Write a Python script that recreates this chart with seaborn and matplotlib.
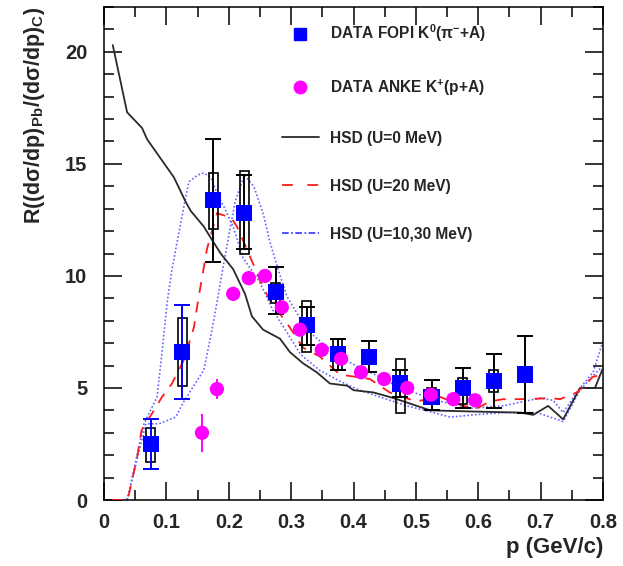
import numpy as np
import pandas as pd
import seaborn as sns
import matplotlib
matplotlib.use("Agg")
import matplotlib.pyplot as plt
from matplotlib.lines import Line2D
from matplotlib.patches import Rectangle
from matplotlib.ticker import MultipleLocator

# ---------------- data ----------------
# FOPI K0 (pi- + A): ratio Pb/C vs momentum
fopi_p = [0.075, 0.125, 0.175, 0.225, 0.275, 0.325, 0.375, 0.425, 0.475, 0.525, 0.575, 0.625, 0.675]
fopi_r = [2.5, 6.6, 13.4, 12.8, 9.3, 7.8, 6.5, 6.4, 5.2, 4.6, 5.0, 5.3, 5.6]
fopi_stat_lo = [1.4, 4.5, 10.6, 11.2, 8.3, 6.9, 5.8, 5.7, 4.6, 4.0, 4.1, 4.1, 3.9]
fopi_stat_hi = [3.6, 8.7, 16.1, 14.5, 10.4, 8.6, 7.2, 7.1, 5.8, 5.35, 5.9, 6.5, 7.3]
fopi_sys_lo = [1.7, 5.1, 12.1, 11.0, 8.8, 6.6, 5.8, np.nan, 3.9, 4.3, 4.3, 4.8, np.nan]
fopi_sys_hi = [3.2, 8.1, 14.6, 14.7, 9.7, 8.9, 7.2, np.nan, 6.3, 5.0, 5.45, 5.8, np.nan]
fopi_bar_color = ["#0000ff", "#0000ff"] + ["#000000"] * 11

# ANKE K+ (p + A)
anke_p = [0.157, 0.181, 0.207, 0.232, 0.258, 0.285, 0.314, 0.349, 0.380, 0.412,
          0.449, 0.486, 0.524, 0.560, 0.595]
anke_r = [3.0, 4.95, 9.2, 9.9, 10.0, 8.6, 7.6, 6.7, 6.3, 5.7, 5.4, 5.0, 4.7, 4.5, 4.45]
anke_err = [0.85, 0.45, 0.3, 0.3, 0.25, 0.25, 0.25, 0.2, 0.2, 0.2, 0.2, 0.2, 0.2, 0.2, 0.2]

# HSD transport calculations
hsd0_p = [0.014, 0.037, 0.061, 0.069, 0.112, 0.131, 0.139, 0.160, 0.171, 0.187, 0.207,
          0.226, 0.237, 0.255, 0.282, 0.298, 0.319, 0.341, 0.362, 0.390, 0.400, 0.432,
          0.464, 0.523, 0.590, 0.667, 0.688, 0.712, 0.736, 0.763, 0.787, 0.800]
hsd0_r = [20.3, 17.3, 16.6, 16.1, 14.4, 13.3, 12.9, 12.2, 11.7, 11.0, 10.3,
          9.2, 8.2, 7.6, 7.2, 6.6, 6.1, 5.7, 5.2, 5.1, 4.9, 4.8,
          4.55, 4.0, 3.95, 3.9, 3.8, 4.2, 3.6, 5.0, 5.0, 5.9]

hsd20_p = [0.0125, 0.038, 0.053, 0.060, 0.080, 0.093, 0.109, 0.128, 0.144, 0.152, 0.165,
           0.181, 0.204, 0.213, 0.229, 0.250, 0.266, 0.293, 0.319, 0.346, 0.378, 0.426,
           0.458, 0.500, 0.539, 0.575, 0.598, 0.619, 0.640, 0.680, 0.715, 0.731, 0.758,
           0.784, 0.800]
hsd20_r = [0.0, 0.0, 1.9, 3.1, 4.0, 4.6, 5.2, 6.25, 7.7, 9.1, 11.2,
           12.8, 12.6, 12.2, 11.2, 9.8, 8.9, 7.9, 6.8, 6.4, 5.6, 5.4,
           4.8, 4.4, 4.6, 4.2, 4.1, 4.4, 4.5, 4.5, 4.55, 4.5, 4.8,
           5.5, 5.6]

hsd10_p = [0.0125, 0.037, 0.064, 0.085, 0.093, 0.101, 0.109, 0.115, 0.128, 0.136, 0.150,
           0.160, 0.171, 0.184, 0.192, 0.207, 0.223, 0.250, 0.270, 0.295, 0.315, 0.345,
           0.378, 0.410, 0.442, 0.486, 0.528, 0.555, 0.592, 0.640, 0.694, 0.715, 0.736,
           0.763, 0.779, 0.800]
hsd10_r = [0.0, 0.0, 3.4, 4.6, 6.6, 8.8, 10.3, 11.2, 13.1, 14.2, 14.5,
           14.6, 14.4, 13.5, 13.1, 12.2, 10.8, 9.7, 8.5, 7.4, 6.5, 5.8,
           5.3, 4.9, 4.6, 4.2, 3.9, 3.7, 3.8, 3.9, 3.9, 3.7, 3.5,
           4.9, 5.4, 6.0]

hsd30_p = [0.0125, 0.037, 0.067, 0.088, 0.115, 0.128, 0.160, 0.171, 0.181, 0.189, 0.200,
           0.210, 0.225, 0.240, 0.255, 0.266, 0.279, 0.293, 0.325, 0.350, 0.378, 0.410,
           0.442, 0.475, 0.507, 0.539, 0.590, 0.640, 0.699, 0.720, 0.736, 0.763, 0.784,
           0.800]
hsd30_r = [0.0, 0.0, 3.4, 3.4, 3.7, 4.4, 5.8, 7.3, 8.8, 10.1, 11.8,
           13.3, 14.5, 14.0, 12.8, 11.5, 10.3, 9.1, 7.6, 7.0, 6.4, 5.9,
           5.5, 5.0, 4.7, 4.4, 4.1, 4.2, 4.55, 4.45, 3.9, 5.0, 5.7,
           7.1]

x_ticks = [0.0, 0.1, 0.2, 0.3, 0.4, 0.5, 0.6, 0.7, 0.8]
x_tick_labels = ["0", "0.1", "0.2", "0.3", "0.4", "0.5", "0.6", "0.7", "0.8"]
y_ticks = [0, 5, 10, 15, 20]
y_tick_labels = ["0", "5", "10", "15", "20"]

legend_labels = [
    "DATA FOPI K$^{0}$(\u03c0$^{-}$+A)",
    "DATA ANKE K$^{+}$(p+A)",
    "HSD (U=0 MeV)",
    "HSD (U=20 MeV)",
    "HSD (U=10,30 MeV)",
]

# ---------------- style ----------------
sns.set_theme(style="ticks")
plt.rcParams.update({
    "font.family": ["Liberation Sans", "DejaVu Sans"],
    "font.weight": "bold",
    "axes.labelweight": "bold",
    "mathtext.fontset": "custom",
    "mathtext.rm": "Liberation Sans:bold",
    "mathtext.it": "Liberation Sans:bold",
    "mathtext.bf": "Liberation Sans:bold",
    "mathtext.sf": "Liberation Sans:bold",
    "axes.linewidth": 1.1,
    "axes.edgecolor": "black",
})

fig = plt.figure(figsize=(6.23, 5.66), dpi=100)
ax = fig.add_axes([0.167, 0.1166, 0.801, 0.871])

blue_line = "#6464ff"
dotted = (1, 1.3)

sns.lineplot(x=hsd10_p, y=hsd10_r, ax=ax, color=blue_line, lw=1.2,
             sort=False, estimator=None, zorder=2)
ax.lines[-1].set_dashes(dotted)
sns.lineplot(x=hsd30_p, y=hsd30_r, ax=ax, color=blue_line, lw=1.2,
             sort=False, estimator=None, zorder=2)
ax.lines[-1].set_dashes(dotted)
sns.lineplot(x=hsd0_p, y=hsd0_r, ax=ax, color="#2a2a2a", lw=1.3,
             sort=False, estimator=None, zorder=3)
sns.lineplot(x=hsd20_p, y=hsd20_r, ax=ax, color="#ff1a1a", lw=1.3,
             sort=False, estimator=None, zorder=3)
ax.lines[-1].set_dashes((6, 5))

# FOPI systematic boxes
for p, lo, hi in zip(fopi_p, fopi_sys_lo, fopi_sys_hi):
    if np.isfinite(lo):
        ax.add_patch(Rectangle((p - 0.0072, lo), 0.0144, hi - lo, fill=False,
                               ec="black", lw=1.2, zorder=4))

# FOPI statistical error bars
fopi_r_arr = np.array(fopi_r)
lo_arr = np.array(fopi_stat_lo)
hi_arr = np.array(fopi_stat_hi)
col_arr = np.array(fopi_bar_color)
for c in np.unique(col_arr):
    m = col_arr == c
    ax.errorbar(np.array(fopi_p)[m], fopi_r_arr[m],
                yerr=[fopi_r_arr[m] - lo_arr[m], hi_arr[m] - fopi_r_arr[m]],
                fmt="none", ecolor=c, elinewidth=1.4, capsize=5.8, capthick=1.4,
                zorder=4)

# ANKE error bars
ax.errorbar(anke_p, anke_r, yerr=anke_err, fmt="none", ecolor="#ff00ff",
            elinewidth=1.4, zorder=5)

sns.scatterplot(x=fopi_p, y=fopi_r, ax=ax, marker="s", s=135, color="#0000ff",
                edgecolor="none", zorder=6)
sns.scatterplot(x=anke_p, y=anke_r, ax=ax, marker="o", s=105, color="#ff00ff",
                edgecolor="none", zorder=6)

# ---------------- axes ----------------
ax.set_xlim(0, 0.8)
ax.set_ylim(0, 22)
ax.set_xticks(x_ticks)
ax.set_xticklabels(x_tick_labels, fontsize=14.5, fontweight="bold")
ax.set_yticks(y_ticks)
ax.set_yticklabels(y_tick_labels, fontsize=14.5, fontweight="bold")
ax.xaxis.set_minor_locator(MultipleLocator(0.05))
ax.yaxis.set_minor_locator(MultipleLocator(1))
ax.tick_params(which="both", direction="in", top=True, right=True, width=1.1,
               color="black")
ax.tick_params(which="major", length=13)
ax.tick_params(which="minor", length=7)
ax.tick_params(axis="x", which="major", pad=9)
ax.tick_params(axis="y", which="major", pad=12)

ax.set_xlabel("p (GeV/c)", fontsize=16, loc="right", labelpad=4)
ax.set_ylabel("R((d\u03c3/dp)$_{\\rm Pb}$/(d\u03c3/dp)$_{\\rm C}$)", fontsize=15.5,
              loc="top", labelpad=13)

# ---------------- legend ----------------
handles = [
    Line2D([], [], ls="none", marker="s", ms=9, color="#0000ff"),
    Line2D([], [], ls="none", marker="o", ms=9, color="#ff00ff"),
    Line2D([], [], color="#2a2a2a", lw=1.3),
    Line2D([], [], color="#ff1a1a", lw=1.3, dashes=(6, 8)),
    Line2D([], [], color="#3333ff", lw=1.2, dashes=(4, 1.5, 1, 1.5)),
]
ax.legend(handles, legend_labels, loc="upper left", bbox_to_anchor=(0.357, 0.968),
          frameon=False, fontsize=11.2, handlelength=2.35, handletextpad=0.7,
          labelspacing=2.12, borderpad=0, borderaxespad=0)

fig.savefig("out.png", dpi=100)
